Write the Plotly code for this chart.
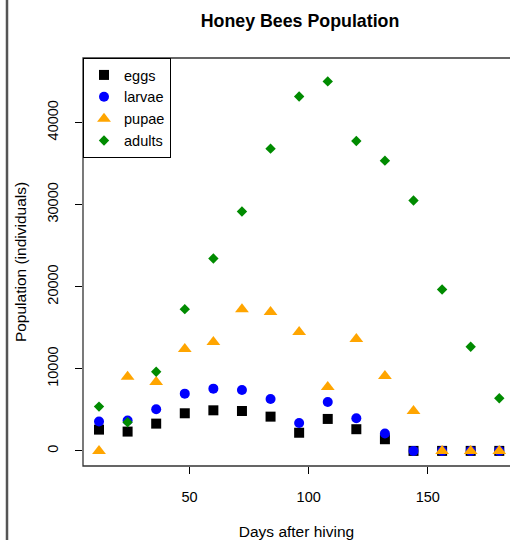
import plotly.graph_objects as go

days = [12, 24, 36, 48, 60, 72, 84, 96, 108, 120, 132, 144, 156, 168, 180]
eggs = [2590, 2350, 3320, 4580, 4940, 4860, 4170, 2210, 3890, 2640, 1420, 0, 0, 0, 0]
larvae = [3570, 3690, 5070, 6970, 7580, 7420, 6320, 3400, 5960, 3970, 2110, 0, 0, 0, 0]
pupae = [0, 9040, 8390, 12400, 13250, 17260, 16900, 14470, 7780, 13620, 9120, 4860, 0, 0, 0]
adults = [5390, 3490, 9640, 17260, 23430, 29140, 36800, 43160, 44990, 37730, 35340, 30480, 19660, 12680, 6410]

x_ticks = [50, 100, 150]
y_ticks = [0, 10000, 20000, 30000, 40000]
y_tick_labels = ["0", "10000", "20000", "30000", "40000"]

FONT = "Liberation Sans, Arial, Helvetica, sans-serif"

fig = go.Figure()
fig.add_trace(go.Scatter(x=days, y=eggs, mode="markers", name="eggs",
                         marker=dict(symbol="square", size=10, color="black")))
fig.add_trace(go.Scatter(x=days, y=larvae, mode="markers", name="larvae",
                         marker=dict(symbol="circle", size=10, color="#0000FF")))
fig.add_trace(go.Scatter(x=days, y=pupae, mode="markers", name="pupae",
                         marker=dict(symbol="triangle-up", size=12, color="#FFA500")))
fig.add_trace(go.Scatter(x=days, y=adults, mode="markers", name="adults",
                         marker=dict(symbol="diamond", size=8, color="#008B00")))

fig.update_layout(
    width=510, height=540,
    margin=dict(l=83, r=0, t=58, b=74, autoexpand=False),
    paper_bgcolor="white", plot_bgcolor="white",
    font=dict(family=FONT, size=14, color="black"),
    title=dict(text="<b>Honey Bees Population</b>", x=300 / 510, xanchor="center",
               y=1 - 21 / 540, yanchor="middle", font=dict(size=17.8, family=FONT)),
    showlegend=True,
    legend=dict(x=0, y=1, xanchor="left", yanchor="top",
                bordercolor="black", borderwidth=1, bgcolor="white",
                font=dict(size=14.5, family=FONT), itemwidth=30,
                tracegroupgap=0),
    xaxis=dict(range=[5.28, 184.5], tickvals=x_ticks, ticks="outside", ticklen=7,
               tickcolor="black", showgrid=False, zeroline=False, showline=False,
               automargin=False, tickfont=dict(size=14.5), ticklabelstandoff=11,
               title=dict(text="Days after hiving", font=dict(size=15.5), standoff=25)),
    yaxis=dict(range=[-1840, 47840], tickvals=y_ticks, ticktext=y_tick_labels,
               ticks="outside", ticklen=7,
               tickcolor="black", showgrid=False, zeroline=False, showline=False,
               automargin=False, tickangle=-90, tickfont=dict(size=14.5), ticklabelstandoff=11,
               title=dict(text="Population (individuals)", font=dict(size=15.5), standoff=14)),
)

# plot box (right side extends beyond the visible canvas)
fig.add_shape(type="rect", xref="paper", yref="paper", x0=0, x1=1.2, y0=0, y1=1,
              line=dict(color="#333333", width=1.3), layer="above")
# left page border line
fig.add_shape(type="line", xref="paper", yref="paper", x0=(7 - 83) / 427, x1=(7 - 83) / 427,
              y0=-0.3, y1=1.3, line=dict(color="#555555", width=2.5))

fig.write_html("out.html", config={"displayModeBar": False},
               post_script="document.body.style.margin='0';")
